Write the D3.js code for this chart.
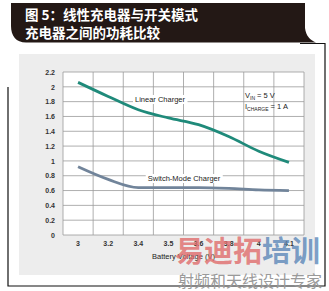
<!DOCTYPE html>
<html>
<head>
<meta charset="utf-8">
<script src="https://cdn.jsdelivr.net/npm/d3@7"></script>
<style>
  body { margin: 0; background: #fff; }
  svg { display: block; }
</style>
</head>
<body>
<svg id="chart" width="329" height="291"></svg>
<script>
// battery voltage categories (x axis)
var voltages = ["3", "3.2", "3.4", "3.5", "3.6", "3.8", "4", "4.1"]
// power dissipation (W)
var linearLoss = [2.06, 1.87, 1.69, 1.58, 1.49, 1.33, 1.13, 0.98]
var switchLoss = [0.92, 0.75, 0.64, 0.64, 0.64, 0.63, 0.61, 0.60]
var yTicks = [0, 0.2, 0.4, 0.6, 0.8, 1, 1.2, 1.4, 1.6, 1.8, 2, 2.2]

var svg = d3.select("#chart")
var tickFont = "'Liberation Sans', Arial, sans-serif"

// title banner
svg.append("path")
    .attr("d", "M11,3 L305,3 L305,28 C306,36 310,40 316,42.5 L26,42.5 C16,42.5 11,36 11,26 Z")
    .attr("fill", "#231815")

svg.selectAll("text.title")
  .data(["图 5：线性充电器与开关模式", "充电器之间的功耗比较"])
  .enter().append("text")
    .attr("class", "title")
    .attr("x", 25)
    .attr("y", (d, i) => 20 + i * 18)
    .attr("fill", "#fff")
    .attr("font-family", "'Noto Sans CJK SC', sans-serif")
    .attr("font-weight", "bold")
    .attr("font-size", 13.5)
    .text(d => d)

// black frame
svg.append("path")
    .attr("d", "M300,43.5 L325,43.5 L325,286 L8,286 L8,87")
    .attr("fill", "none")
    .attr("stroke", "#111")
    .attr("stroke-width", 1.2)

// grey panel
svg.append("rect")
    .attr("x", 19).attr("y", 54)
    .attr("width", 296).attr("height", 221)
    .attr("fill", "#ededed")

var margin = {left: 63, top: 72, right: 304, bottom: 235}

var x = d3.scaleBand()
    .domain(voltages)
    .range([margin.left, margin.right])

var y = d3.scaleLinear()
    .domain([0, 2.2])
    .range([margin.bottom, margin.top])

var plot = svg.append("g")

plot.append("rect")
    .attr("x", margin.left).attr("y", margin.top)
    .attr("width", margin.right - margin.left)
    .attr("height", margin.bottom - margin.top)
    .attr("fill", "#fff")

// horizontal grid
plot.append("g")
  .selectAll("line")
  .data(yTicks)
  .enter().append("line")
    .attr("x1", margin.left).attr("x2", margin.right)
    .attr("y1", d => y(d)).attr("y2", d => y(d))
    .attr("stroke", "#9a9a9a")
    .attr("stroke-width", 0.8)

// vertical grid on band edges
var edges = voltages.map(d => x(d)).concat([x.range()[1]])
plot.append("g")
  .selectAll("line")
  .data(edges)
  .enter().append("line")
    .attr("x1", d => d).attr("x2", d => d)
    .attr("y1", margin.top).attr("y2", margin.bottom)
    .attr("stroke", "#9a9a9a")
    .attr("stroke-width", 0.8)

// y axis labels
var yAxis = plot.append("g")
    .attr("transform", "translate(" + margin.left + ",0)")
    .call(d3.axisLeft(y).tickValues(yTicks).tickSize(0).tickPadding(8).tickFormat(d => +d.toFixed(1)))
yAxis.select(".domain").remove()
yAxis.selectAll("text")
    .attr("font-family", tickFont)
    .attr("font-size", 7)
    .attr("font-weight", "bold")
    .attr("fill", "#333")

// x axis labels
var xAxis = plot.append("g")
    .attr("transform", "translate(0," + margin.bottom + ")")
    .call(d3.axisBottom(x).tickSize(0).tickPadding(6))
xAxis.select(".domain").remove()
xAxis.selectAll("text")
    .attr("font-family", tickFont)
    .attr("font-size", 7)
    .attr("font-weight", "bold")
    .attr("fill", "#333")

plot.append("text")
    .attr("x", (margin.left + margin.right) / 2)
    .attr("y", 259)
    .attr("text-anchor", "middle")
    .attr("font-family", tickFont)
    .attr("font-size", 7.5)
    .attr("fill", "#222")
    .text("Battery Voltage (V)")

// lines
var line = d3.line()
    .x((d, i) => x(voltages[i]) + x.bandwidth() / 2)
    .y(d => y(d))
    .curve(d3.curveMonotoneX)

plot.append("path")
    .datum(linearLoss)
    .attr("fill", "none")
    .attr("stroke", "#1f8a7a")
    .attr("stroke-width", 2.8)
    .attr("d", line)

plot.append("path")
    .datum(switchLoss)
    .attr("fill", "none")
    .attr("stroke", "#71849a")
    .attr("stroke-width", 2.8)
    .attr("d", line)

// series labels with white boxes
function seriesLabel(txt, cx, cy) {
  var g = plot.append("g")
  var t = g.append("text")
      .attr("x", cx).attr("y", cy)
      .attr("text-anchor", "middle")
      .attr("font-family", tickFont)
      .attr("font-size", 7.5)
      .attr("fill", "#222")
      .text(txt)
  var bb = t.node().getBBox()
  g.insert("rect", "text")
      .attr("x", bb.x - 2).attr("y", bb.y)
      .attr("width", bb.width + 4).attr("height", bb.height)
      .attr("fill", "#fff")
}
seriesLabel("Linear Charger", 160, 102)
seriesLabel("Switch-Mode Charger", 184, 181)

// conditions note
var note = plot.append("g")
    .attr("font-family", tickFont)
    .attr("font-size", 7.5)
    .attr("fill", "#222")
var n1 = note.append("text").attr("x", 245).attr("y", 98)
n1.append("tspan").text("V")
n1.append("tspan").attr("font-size", 5).attr("dy", 1.5).text("IN")
n1.append("tspan").attr("dy", -1.5).text(" = 5 V")
var n2 = note.append("text").attr("x", 245).attr("y", 109)
n2.append("tspan").text("I")
n2.append("tspan").attr("font-size", 5).attr("dy", 1.5).text("CHARGE")
n2.append("tspan").attr("dy", -1.5).text(" = 1 A")

// watermark
var wm = svg.append("text")
    .attr("x", 175).attr("y", 262)
    .attr("font-family", "'Noto Sans CJK SC', sans-serif")
    .attr("font-weight", "bold")
    .attr("font-size", 29)
wm.append("tspan").attr("fill", "#e06a6a").attr("fill-opacity", 0.8).text("易迪拓")
wm.append("tspan").attr("fill", "#5b86b8").attr("fill-opacity", 0.8).text("培训")

svg.append("text")
    .attr("x", 178).attr("y", 287)
    .attr("font-family", "'Noto Sans CJK SC', sans-serif")
    .attr("font-size", 16)
    .attr("fill", "#9a9a9a")
    .text("射频和天线设计专家")
</script>
</body>
</html>
